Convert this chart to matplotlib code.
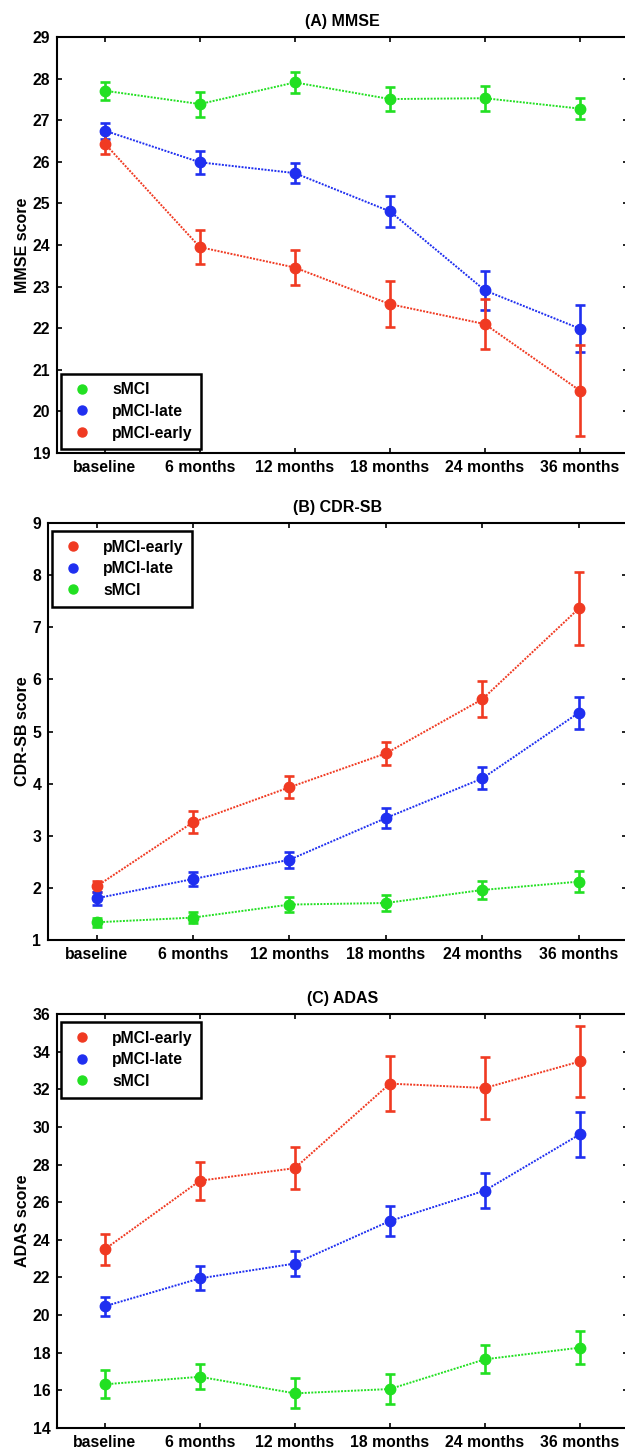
import matplotlib.pyplot as plt
from matplotlib.lines import Line2D
import numpy as np

plt.rcParams['font.family'] = ['Liberation Sans', 'DejaVu Sans']
plt.rcParams['font.weight'] = 'bold'

visits = ['baseline', '6 months', '12 months', '18 months', '24 months', '36 months']

# (A) MMSE
mmse_smci = [27.71, 27.39, 27.91, 27.51, 27.53, 27.28]
mmse_smci_err = [0.22, 0.30, 0.26, 0.28, 0.30, 0.26]
mmse_late = [26.75, 25.99, 25.73, 24.81, 22.91, 21.99]
mmse_late_err = [0.19, 0.27, 0.24, 0.38, 0.46, 0.57]
mmse_early = [26.44, 23.95, 23.46, 22.58, 22.10, 20.50]
mmse_early_err = [0.26, 0.41, 0.43, 0.55, 0.60, 1.09]

# (B) CDR-SB
cdr_early = [2.03, 3.26, 3.93, 4.58, 5.62, 7.36]
cdr_early_err = [0.10, 0.21, 0.21, 0.22, 0.35, 0.70]
cdr_late = [1.80, 2.17, 2.54, 3.34, 4.10, 5.36]
cdr_late_err = [0.12, 0.13, 0.15, 0.19, 0.21, 0.31]
cdr_smci = [1.34, 1.43, 1.68, 1.71, 1.96, 2.12]
cdr_smci_err = [0.09, 0.11, 0.15, 0.15, 0.18, 0.20]

# (C) ADAS
adas_early = [23.50, 27.14, 27.81, 32.30, 32.07, 33.48]
adas_early_err = [0.82, 1.01, 1.10, 1.48, 1.65, 1.90]
adas_late = [20.47, 21.95, 22.74, 25.00, 26.62, 29.61]
adas_late_err = [0.50, 0.64, 0.67, 0.79, 0.91, 1.19]
adas_smci = [16.32, 16.72, 15.84, 16.07, 17.65, 18.27]
adas_smci_err = [0.75, 0.66, 0.79, 0.81, 0.75, 0.88]

c_green = '#22e022'
c_blue = '#1f2ff0'
c_red = '#f03a22'

x = np.arange(len(visits))

fig = plt.figure(figsize=(6.25, 14.54), dpi=100)

def panel(rect, title, ylabel, series, ylim, yticks, legend_loc, legend_anchor):
    ax = fig.add_axes(rect)
    for y, err, col, lab in series:
        ax.errorbar(x, y, yerr=err, fmt='o', ls=(0, (1, 0.7)), color=col, ecolor=col,
                    ms=7.5, lw=1.4, elinewidth=1.9, capsize=3.5, capthick=1.9, label=lab)
    ax.set_xlim(-0.5, 5.5)
    ax.set_ylim(*ylim)
    ax.set_yticks(yticks)
    ax.set_xticks(x)
    ax.set_xticklabels(visits)
    ax.tick_params(direction='in', top=True, right=True, length=3.5, width=1.2,
                   labelsize=11.3, pad=5)
    for s in ax.spines.values():
        s.set_linewidth(1.5)
    ax.set_title(title, fontsize=11.5, fontweight='bold', pad=8)
    ax.set_ylabel(ylabel, fontsize=11.5, fontweight='bold', labelpad=2)
    handles = [Line2D([], [], marker='o', ls='none', color=c, ms=6.5) for _, _, c, _ in series]
    labels = [s[3] for s in series]
    leg = ax.legend(handles, labels, loc=legend_loc, bbox_to_anchor=legend_anchor,
                    fontsize=11.3, fancybox=False, framealpha=1, edgecolor='black',
                    handletextpad=1.1, borderpad=0.55, labelspacing=0.42, handlelength=1.6,
                    borderaxespad=0.25)
    leg.get_frame().set_linewidth(1.8)
    return ax

panel([0.0917, 0.6884, 0.9123, 0.2861], '(A) MMSE', 'MMSE score',
      [(mmse_smci, mmse_smci_err, c_green, 'sMCI'),
       (mmse_late, mmse_late_err, c_blue, 'pMCI-late'),
       (mmse_early, mmse_early_err, c_red, 'pMCI-early')],
      (19, 29), np.arange(19, 30, 1), 'lower left', (0.0, 0.0))

panel([0.0773, 0.3535, 0.926, 0.2868], '(B) CDR-SB', 'CDR-SB score',
      [(cdr_early, cdr_early_err, c_red, 'pMCI-early'),
       (cdr_late, cdr_late_err, c_blue, 'pMCI-late'),
       (cdr_smci, cdr_smci_err, c_green, 'sMCI')],
      (1, 9), np.arange(1, 10, 1), 'upper left', (0.0, 0.99))

panel([0.0917, 0.0179, 0.9123, 0.2847], '(C) ADAS', 'ADAS score',
      [(adas_early, adas_early_err, c_red, 'pMCI-early'),
       (adas_late, adas_late_err, c_blue, 'pMCI-late'),
       (adas_smci, adas_smci_err, c_green, 'sMCI')],
      (14, 36), np.arange(14, 37, 2), 'upper left', (0.0, 0.99))

fig.savefig('out.png', dpi=100)
